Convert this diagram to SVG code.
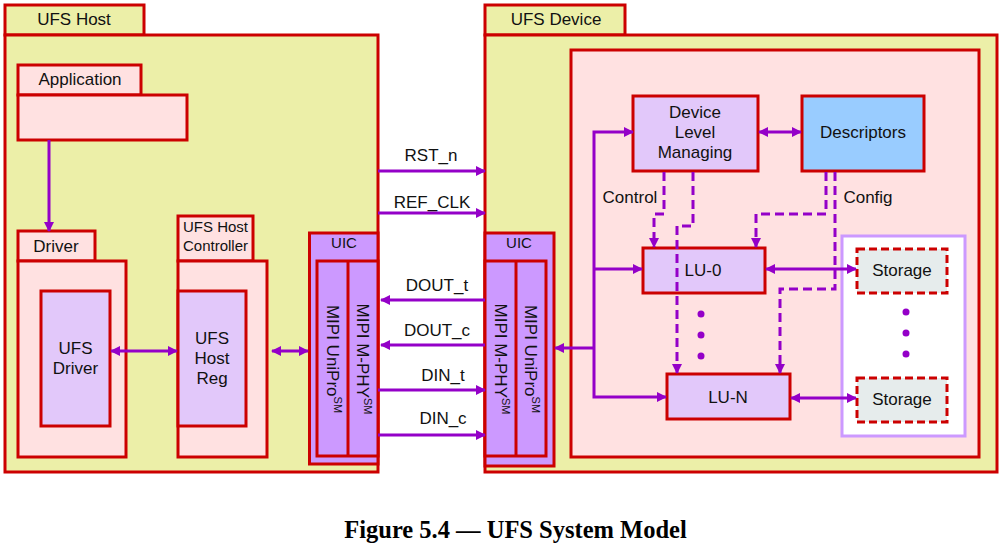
<svg xmlns="http://www.w3.org/2000/svg" width="1003" height="546" viewBox="0 0 1003 546">
<style>
text{font-family:"Liberation Sans",Arial,sans-serif;font-size:17px;fill:#111;text-anchor:middle}
.sm{font-size:15px}
.b{stroke:#CC0000;stroke-width:3}
.yel{fill:#ECEFA8}
.pink{fill:#FFE1E1}
.lav{fill:#E2C8FA}
.uic{fill:#CC99FF}
.c{stroke:#9400C8;stroke-width:3;fill:none}
.d{stroke:#9400C8;stroke-width:3;fill:none;stroke-dasharray:9,5}
.dot{fill:#9400C8}
.cap{font-family:"Liberation Serif","Times New Roman",serif;font-weight:bold;font-size:24.5px;fill:#000}
</style>
<defs>
<marker id="ah" viewBox="0 0 10 10" refX="9" refY="5" markerWidth="10" markerHeight="10" markerUnits="userSpaceOnUse" orient="auto-start-reverse">
<path d="M0,0 L10,5 L0,10 z" fill="#9400C8"/>
</marker>
</defs>
<rect width="1003" height="546" fill="#fff"/>

<g id="host">
<rect x="5" y="5" width="139" height="30" class="yel b"/>
<rect x="5" y="35" width="373" height="437" class="yel b"/>
<text x="74" y="25">UFS Host</text>
</g>

<g id="application">
<rect x="18" y="65" width="123" height="30" class="pink b"/>
<rect x="18" y="95" width="169" height="45" class="pink b"/>
<text x="80" y="85">Application</text>
</g>

<g id="driver">
<rect x="18" y="231" width="77" height="30" class="pink b"/>
<rect x="18" y="261" width="108" height="196" class="pink b"/>
<text x="56" y="252">Driver</text>
</g>
<g id="ufs-driver">
<rect x="41" y="291" width="69" height="135" class="lav b"/>
<text x="75.5" y="354">UFS</text>
<text x="75.5" y="374">Driver</text>
</g>

<g id="host-controller">
<rect x="178" y="216" width="75" height="45" class="pink b"/>
<rect x="178" y="261" width="89" height="196" class="pink b"/>
<text class="sm" x="215.5" y="232">UFS Host</text>
<text class="sm" x="215.5" y="251">Controller</text>
</g>
<g id="host-reg">
<rect x="178" y="291" width="68" height="135" class="lav b"/>
<text x="212" y="344">UFS</text>
<text x="212" y="364">Host</text>
<text x="212" y="384">Reg</text>
</g>

<g id="host-uic">
<rect x="309.5" y="233" width="68.5" height="231" class="uic b"/>
<rect x="317" y="261" width="61" height="195" class="uic b"/>
<line x1="348" y1="261" x2="348" y2="456" class="b"/>
<text class="sm" x="344" y="248">UIC</text>
<text transform="translate(332.5,359) rotate(90)" y="6">MIPI UniPro<tspan font-size="11" dy="-7">SM</tspan></text>
<text transform="translate(363,359) rotate(90)" y="6">MIPI M-PHY<tspan font-size="11" dy="-7">SM</tspan></text>
</g>

<g id="device">
<rect x="485" y="5" width="140" height="30" class="yel b"/>
<rect x="485" y="35" width="512" height="437" class="yel b"/>
<text x="556" y="25">UFS Device</text>
<rect x="571" y="50" width="408" height="407" class="pink b"/>
</g>

<g id="device-uic">
<rect x="485" y="233" width="69" height="233" class="uic b"/>
<rect x="485" y="261" width="61" height="195" class="uic b"/>
<line x1="516" y1="261" x2="516" y2="456" class="b"/>
<text class="sm" x="519" y="248">UIC</text>
<text transform="translate(500.5,359) rotate(90)" y="6">MIPI M-PHY<tspan font-size="11" dy="-7">SM</tspan></text>
<text transform="translate(531,359) rotate(90)" y="6">MIPI UniPro<tspan font-size="11" dy="-7">SM</tspan></text>
</g>

<g id="device-level-managing">
<rect x="633" y="96" width="125" height="75" class="lav b"/>
<text x="695" y="118">Device</text>
<text x="695" y="138">Level</text>
<text x="695" y="158">Managing</text>
</g>

<g id="descriptors">
<rect x="802" y="96" width="122" height="75" fill="#99CCFF" class="b"/>
<text x="863" y="138">Descriptors</text>
</g>

<g id="storage-pool">
<rect x="842" y="236" width="123" height="200" fill="#fff" stroke="#CC99FF" stroke-width="3"/>
</g>
<g id="storage-0">
<rect x="857" y="249" width="90" height="44" fill="#E6ECEC" stroke="#CC0000" stroke-width="3" stroke-dasharray="8,4"/>
<text x="902" y="276">Storage</text>
</g>
<g id="storage-n">
<rect x="857" y="378" width="90" height="44" fill="#E6ECEC" stroke="#CC0000" stroke-width="3" stroke-dasharray="8,4"/>
<text x="902" y="405">Storage</text>
</g>

<g id="lu-0">
<rect x="643" y="248" width="122" height="45" class="lav b"/>
<text x="703" y="276">LU-0</text>
</g>
<g id="lu-n">
<rect x="667" y="374" width="123" height="45" class="lav b"/>
<text x="728" y="403">LU-N</text>
</g>

<g id="connectors">
<line x1="49" y1="140" x2="49" y2="231" class="c" marker-end="url(#ah)"/>
<line x1="111" y1="351" x2="177" y2="351" class="c" marker-start="url(#ah)" marker-end="url(#ah)"/>
<line x1="272" y1="351" x2="308" y2="351" class="c" marker-start="url(#ah)" marker-end="url(#ah)"/>

<line x1="378" y1="171" x2="485" y2="171" class="c" marker-end="url(#ah)"/>
<line x1="378" y1="213" x2="485" y2="213" class="c" marker-end="url(#ah)"/>
<line x1="485" y1="300" x2="381" y2="300" class="c" marker-end="url(#ah)"/>
<line x1="485" y1="345" x2="381" y2="345" class="c" marker-end="url(#ah)"/>
<line x1="378" y1="390" x2="485" y2="390" class="c" marker-end="url(#ah)"/>
<line x1="378" y1="435" x2="485" y2="435" class="c" marker-end="url(#ah)"/>

<path d="M633,132 H594 V397 H666" class="c" marker-start="url(#ah)" marker-end="url(#ah)"/>
<line x1="594" y1="269" x2="642" y2="269" class="c" marker-end="url(#ah)"/>
<line x1="594" y1="348" x2="555" y2="348" class="c" marker-end="url(#ah)"/>
<line x1="759" y1="132" x2="801" y2="132" class="c" marker-start="url(#ah)" marker-end="url(#ah)"/>
<line x1="766" y1="269" x2="856" y2="269" class="c" marker-start="url(#ah)" marker-end="url(#ah)"/>
<line x1="791" y1="398" x2="856" y2="398" class="c" marker-start="url(#ah)" marker-end="url(#ah)"/>

<path d="M664,172 V214 H654 V247" class="d" marker-end="url(#ah)"/>
<path d="M693,172 V226 H677 V373" class="d" marker-end="url(#ah)"/>
<path d="M826,172 V214 H756 V247" class="d" marker-end="url(#ah)"/>
<path d="M835,172 V289 H780 V373" class="d" marker-end="url(#ah)"/>
</g>

<g id="labels">
<text x="431" y="161">RST_n</text>
<text x="432" y="208">REF_CLK</text>
<text x="437" y="291">DOUT_t</text>
<text x="437" y="336">DOUT_c</text>
<text x="443" y="381">DIN_t</text>
<text x="443" y="424">DIN_c</text>
<text x="630" y="203">Control</text>
<text x="868" y="203">Config</text>
</g>

<g id="dots">
<circle cx="701" cy="314" r="3.5" class="dot"/>
<circle cx="701" cy="335" r="3.5" class="dot"/>
<circle cx="701" cy="356" r="3.5" class="dot"/>
<circle cx="906" cy="312" r="3.5" class="dot"/>
<circle cx="906" cy="333" r="3.5" class="dot"/>
<circle cx="906" cy="354" r="3.5" class="dot"/>
</g>

<text class="cap" x="515.5" y="538">Figure 5.4 — UFS System Model</text>
</svg>
